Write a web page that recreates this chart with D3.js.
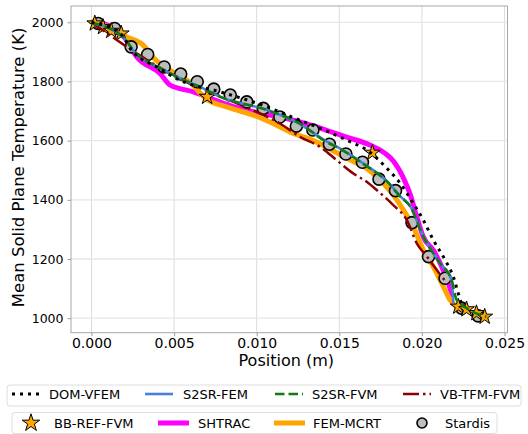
<!DOCTYPE html>
<html><head><meta charset="utf-8">
<script src="https://cdn.jsdelivr.net/npm/d3@7"></script>
<style>
body{margin:0;background:#fff;}
text{font-family:"DejaVu Sans",sans-serif;fill:#000;}
</style></head>
<body><svg id="c" width="528" height="434"></svg>
<script>
// ---- data ----
const xTicks = [0.000, 0.005, 0.010, 0.015, 0.020, 0.025];
const yTicks = [1000, 1200, 1400, 1600, 1800, 2000];

const domX = [0, 0.00179, 0.00243, 0.00395, 0.00536, 0.00778, 0.0102, 0.01262, 0.01383, 0.01545, 0.01686, 0.01787, 0.01867, 0.01948, 0.02008, 0.02069, 0.0214, 0.0219, 0.0222, 0.02243];
const domT = [2000, 1960, 1905, 1849, 1804, 1765, 1723, 1669, 1642, 1602, 1561, 1507, 1457, 1388, 1332, 1264, 1197, 1140, 1084, 1042];

const femX = [0, 0.0019, 0.0027, 0.0042, 0.0054, 0.007, 0.0078, 0.0106, 0.0126, 0.0142, 0.015, 0.0164, 0.0179, 0.0187, 0.0193, 0.0201, 0.0211, 0.0218, 0.0219];
const femT = [1998, 1950, 1893, 1844, 1810, 1770, 1748, 1704, 1657, 1598, 1575, 1525, 1462, 1412, 1378, 1275, 1186, 1129, 1052];

const fvmX = [0, 0.0019, 0.0027, 0.0042, 0.0054, 0.007, 0.0078, 0.0106, 0.0126, 0.0142, 0.015, 0.0164, 0.0179, 0.0187, 0.0193, 0.0201, 0.0211, 0.0218, 0.0221, 0.0227, 0.0239];
const fvmT = [1998, 1951, 1894, 1844, 1810, 1770, 1748, 1704, 1658, 1596, 1574, 1523, 1461, 1410, 1377, 1275, 1186, 1129, 1062, 1034, 1005];

const vbX = [0, 0.00274, 0.00536, 0.00778, 0.0102, 0.01141, 0.01262, 0.01383, 0.01484, 0.01585, 0.01666, 0.01726, 0.01827, 0.01908, 0.01969, 0.0203, 0.0209, 0.0214];
const vbT = [2000, 1895, 1808, 1750, 1692, 1658, 1613, 1579, 1534, 1489, 1461, 1433, 1382, 1332, 1253, 1208, 1163, 1126];

const bbX = [0.0002, 0.0007, 0.0012, 0.0018, 0.007, 0.017, 0.0222, 0.0227, 0.0233, 0.0238];
const bbT = [1996, 1984, 1971, 1962, 1748, 1559, 1039, 1030, 1017, 1005];

const shX = [0.0003, 0.001, 0.00203, 0.00274, 0.00415, 0.00475, 0.00536, 0.00616, 0.00697, 0.00849, 0.0102, 0.01182, 0.01323, 0.01424, 0.01545, 0.01686, 0.01777, 0.01827, 0.01887, 0.01928, 0.01969, 0.02008, 0.02069, 0.0212, 0.0216, 0.02182];
const shT = [2000, 1990, 1946, 1883, 1827, 1788, 1776, 1765, 1748, 1717, 1693, 1675, 1653, 1635, 1612, 1585, 1557, 1531, 1475, 1420, 1343, 1275, 1230, 1174, 1118, 1079];

const mcX = [0, 0.00112, 0.00213, 0.00314, 0.00366, 0.00475, 0.00596, 0.00697, 0.00818, 0.0098, 0.01121, 0.01222, 0.01323, 0.01424, 0.01545, 0.01666, 0.01746, 0.01827, 0.01887, 0.01948, 0.02008, 0.02069, 0.0213, 0.0217, 0.02211];
const mcT = [2000, 1983, 1950, 1922, 1885, 1838, 1797, 1740, 1714, 1686, 1652, 1624, 1605, 1578, 1540, 1506, 1467, 1416, 1366, 1309, 1231, 1174, 1107, 1062, 1039];

const stX = [0.0004, 0.0014, 0.0024, 0.0034, 0.0044, 0.0054, 0.0064, 0.0074, 0.0084, 0.0094, 0.0104, 0.0114, 0.0124, 0.0134, 0.0144, 0.0154, 0.0164, 0.0174, 0.0184, 0.0194, 0.0204, 0.0214, 0.0224, 0.0234];
const stT = [1996, 1979, 1917, 1891, 1849, 1825, 1799, 1774, 1754, 1731, 1709, 1680, 1649, 1636, 1588, 1555, 1527, 1470, 1431, 1323, 1208, 1135, 1034, 1008];

const legend1 = ["DOM-VFEM", "S2SR-FEM", "S2SR-FVM", "VB-TFM-FVM"];
const legend2 = ["BB-REF-FVM", "SHTRAC", "FEM-MCRT", "Stardis"];

// ---- drawing ----
const svg = d3.select("#c");
const L = 71, R = 507.5, T = 6, B = 332.7;
const x = d3.scaleLinear().domain([-0.00124, 0.02518]).range([L, R]);
const y = d3.scaleLinear().domain([951, 2055]).range([B, T]);
const zip = (a, b) => a.map((v, i) => [v, b[i]]);
const line = d3.line().x(d => x(d[0])).y(d => y(d[1])).curve(d3.curveMonotoneX);

// grid
const g = svg.append("g");
g.selectAll(".gx").data(xTicks).join("line")
  .attr("x1", d => x(d)).attr("x2", d => x(d)).attr("y1", T).attr("y2", B)
  .attr("stroke", "#dcdcdc").attr("stroke-width", 1);
g.selectAll(".gy").data(yTicks).join("line")
  .attr("y1", d => y(d)).attr("y2", d => y(d)).attr("x1", L).attr("x2", R)
  .attr("stroke", "#e6e6e6").attr("stroke-width", 1.3);

// axes
const xAxis = d3.axisBottom(x).tickValues(xTicks).tickFormat(d3.format(".3f")).tickSize(3.5).tickPadding(1.5);
const yAxis = d3.axisLeft(y).tickValues(yTicks).tickFormat(d3.format("d")).tickSize(3.5).tickPadding(4);
const gx = svg.append("g").attr("transform", `translate(0,${B})`).call(xAxis);
const gy = svg.append("g").attr("transform", `translate(${L},0)`).call(yAxis);
[gx, gy].forEach(a => {
  a.select(".domain").remove();
  a.selectAll("line").attr("stroke", "#999");
  a.selectAll("text").attr("font-family", "DejaVu Sans").attr("fill", "#000");
});
gx.selectAll("text").attr("font-size", 14);
gy.selectAll("text").attr("font-size", 12.5);

// frame
svg.append("rect").attr("x", L).attr("y", T).attr("width", R - L).attr("height", B - T)
  .attr("fill", "none").attr("stroke", "#a8a8a8").attr("stroke-width", 1);

const plot = svg.append("g");
function path(data, color, w, dash, cap) {
  plot.append("path").datum(data).attr("d", line).attr("fill", "none")
    .attr("stroke", color).attr("stroke-width", w)
    .attr("stroke-dasharray", dash || null)
    .attr("stroke-linejoin", "round").attr("stroke-linecap", cap || "butt");
}
path(zip(shX, shT), "#ff00ff", 5, null, "round");
path(zip(mcX, mcT), "#ffa500", 5, null, "round");

// Stardis circles
plot.selectAll(".st").data(zip(stX, stT)).join("circle")
  .attr("cx", d => x(d[0])).attr("cy", d => y(d[1])).attr("r", 6)
  .attr("fill", "#bdbdbd").attr("stroke", "#000").attr("stroke-width", 1.6);

// stars
const star = d3.symbol().type(d3.symbolStar).size(78);
plot.selectAll(".bb").data(zip(bbX, bbT)).join("path")
  .attr("d", star).attr("transform", d => `translate(${x(d[0])},${y(d[1])})`)
  .attr("fill", "#ffa500").attr("stroke", "#000").attr("stroke-width", 1);

path(zip(vbX, vbT), "#8b0000", 2.5, "16,4,2.5,4");
path(zip(femX, femT), "#4a7fe0", 2.6);
path(zip(fvmX, fvmT), "#137a13", 2.6, "9.5,4");
path(zip(domX, domT), "#000", 3, "3,5");

// legends
function legendBox(x0, y0, w, h) {
  svg.append("rect").attr("x", x0).attr("y", y0).attr("width", w).attr("height", h)
    .attr("rx", 3).attr("fill", "#fff").attr("stroke", "#dedede").attr("stroke-width", 1);
}
legendBox(7, 385, 514, 21);
legendBox(12, 412.5, 485, 21);

const l1 = svg.append("g");
const l1x = [12, 145, 275, 403];
const l1tx = [49, 183, 312, 440];
const l1s = [
  {c: "#000", w: 3, d: "3,5"},
  {c: "#4a7fe0", w: 2.6, d: null},
  {c: "#137a13", w: 2.6, d: "9.5,4"},
  {c: "#8b0000", w: 2.5, d: "16,4,2.5,4"}
];
legend1.forEach((name, i) => {
  l1.append("line").attr("x1", l1x[i]).attr("x2", l1x[i] + 28).attr("y1", 394).attr("y2", 394)
    .attr("stroke", l1s[i].c).attr("stroke-width", l1s[i].w).attr("stroke-dasharray", l1s[i].d);
  l1.append("text").attr("x", l1tx[i]).attr("y", 398.5).attr("font-size", 13).text(name);
});

const l2 = svg.append("g");
const l2tx = [54, 198, 313, 445];
l2.append("path").attr("d", d3.symbol().type(d3.symbolStar).size(95))
  .attr("transform", "translate(31,423)").attr("fill", "#ffa500").attr("stroke", "#000").attr("stroke-width", 1);
l2.append("line").attr("x1", 158).attr("x2", 189).attr("y1", 423).attr("y2", 423).attr("stroke", "#ff00ff").attr("stroke-width", 5);
l2.append("line").attr("x1", 274).attr("x2", 305).attr("y1", 423).attr("y2", 423).attr("stroke", "#ffa500").attr("stroke-width", 5);
l2.append("circle").attr("cx", 422).attr("cy", 423).attr("r", 5).attr("fill", "#bdbdbd").attr("stroke", "#000").attr("stroke-width", 1.6);
legend2.forEach((name, i) => {
  l2.append("text").attr("x", l2tx[i]).attr("y", 427.5).attr("font-size", 13).text(name);
});

// axis labels
svg.append("text").attr("x", (L + R) / 2 - 3).attr("y", 366).attr("text-anchor", "middle")
  .attr("font-size", 16).text("Position (m)");
svg.append("text").attr("transform", `translate(24,${(T + B) / 2 - 2}) rotate(-90)`)
  .attr("text-anchor", "middle").attr("font-size", 16.5).text("Mean Solid Plane Temperature (K)");
</script></body></html>
